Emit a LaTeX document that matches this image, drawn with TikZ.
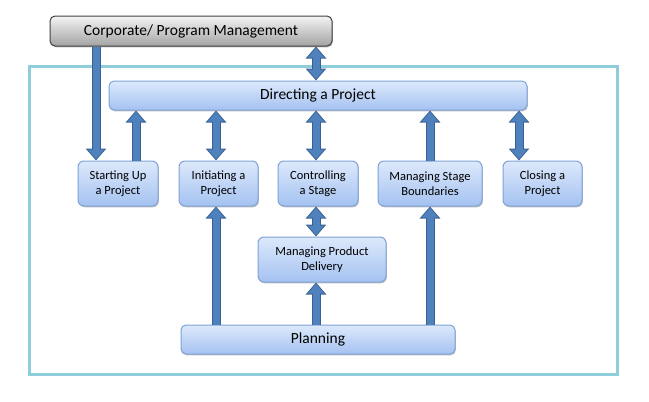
\documentclass[tikz,border=0pt]{standalone}
\usepackage{fontspec}
\setmainfont{Carlito}
\usetikzlibrary{arrows.meta,shadows}
\definecolor{frameblue}{HTML}{8ECDDC}
\definecolor{boxtop}{HTML}{DDE9FB}
\definecolor{boxbot}{HTML}{A4C2F1}
\definecolor{boxline}{HTML}{7FA3D6}
\definecolor{arrowfill}{HTML}{4F81BD}
\definecolor{arrowline}{HTML}{3A6193}
\definecolor{greytop}{HTML}{F4F4F4}
\definecolor{greybot}{HTML}{A3A3A3}
\definecolor{greyline}{HTML}{3F3F3F}
\begin{document}
\begin{tikzpicture}[x=1pt,y=-1pt,
  stage/.style={draw=boxline,line width=1pt,rounded corners=6pt,top color=boxtop,bottom color=boxbot,
    align=center,font=\fontsize{12.5}{15}\selectfont,text=black,inner sep=0pt,minimum height=45pt,
    drop shadow={shadow xshift=0.8pt,shadow yshift=-1.3pt,opacity=0.25,fill=black}},
  bar/.style={stage,font=\fontsize{15.5}{18}\selectfont,minimum height=29pt,rounded corners=5pt},
  fat/.style={draw=arrowfill,line width=7pt,shorten >=1.4pt,-{Triangle[length=9.6pt,width=16pt]},
    preaction={draw=arrowline,line width=9pt,shorten >=0pt,-{Triangle[length=12pt,width=20pt]}}},
  fatboth/.style={draw=arrowfill,line width=7pt,shorten >=1.4pt,shorten <=1.4pt,
    {Triangle[length=9.6pt,width=16pt]}-{Triangle[length=9.6pt,width=16pt]},
    preaction={draw=arrowline,line width=9pt,shorten >=0pt,shorten <=0pt,
      {Triangle[length=12pt,width=20pt]}-{Triangle[length=12pt,width=20pt]}}}]
\useasboundingbox (0,0) rectangle (649,402);
\fill [white] (0,0) rectangle (649,402);
\draw [frameblue,line width=3pt] (29.2,66) rectangle (617,374.7);

\node [bar,draw=greyline,top color=greytop,bottom color=greybot,minimum width=282pt,minimum height=30pt] (corp) at (191,31) {Corporate/ Program Management};
\node [bar,minimum width=418pt] (dir) at (318,95.5) {Directing a Project};
\node [stage,minimum width=80pt] (sup) at (118,183.5) {Starting Up\\a Project};
\node [stage,minimum width=79pt] (ini) at (218.5,183.5) {Initiating a\\Project};
\node [stage,minimum width=80pt] (ctl) at (318,183.5) {Controlling\\a Stage};
\node [stage,minimum width=104pt] (msb) at (430,183.5) {Managing Stage\\Boundaries};
\node [stage,minimum width=79pt] (clo) at (542.5,183.5) {Closing a\\Project};
\node [stage,minimum width=128pt] (mpd) at (322,259.5) {Managing Product\\Delivery};
\node [bar,minimum width=274pt] (plan) at (318,339.5) {Planning};

\draw [fat] (corp.south -| 96,0) -- (sup.north -| 96,0);
\draw [fatboth] (corp.south -| 316,0) -- (dir.north -| 316,0);
\draw [fat] (sup.north -| 136,0) -- (dir.south -| 136,0);
\draw [fatboth] (ini.north -| 216,0) -- (dir.south -| 216,0);
\draw [fatboth] (ctl.north -| 316,0) -- (dir.south -| 316,0);
\draw [fat] (msb.north -| 430,0) -- (dir.south -| 430,0);
\draw [fatboth] (clo.north -| 519,0) -- (dir.south -| 519,0);
\draw [fatboth] (ctl.south -| 316,0) -- (mpd.north -| 316,0);
\draw [fat] (plan.north -| 216,0) -- (ini.south -| 216,0);
\draw [fat] (plan.north -| 316,0) -- (mpd.south -| 316,0);
\draw [fat] (plan.north -| 430,0) -- (msb.south -| 430,0);
\end{tikzpicture}
\end{document}
